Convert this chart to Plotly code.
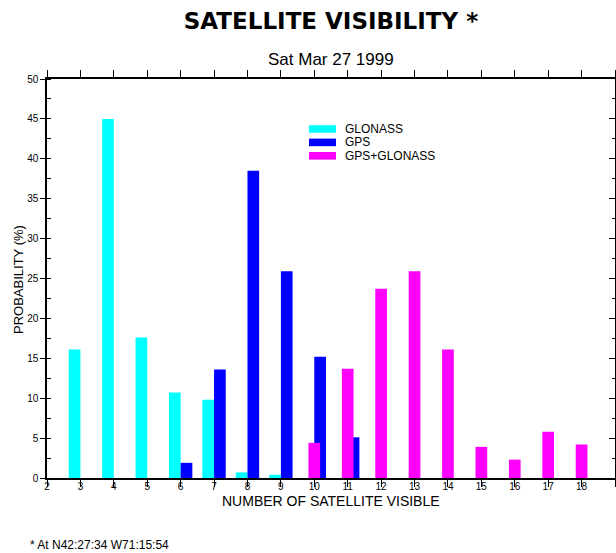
import plotly.graph_objects as go

counts = list(range(2, 20))
glonass_x = [3, 4, 5, 6, 7, 8, 9]
glonass_y = [16.1, 45.0, 17.6, 10.7, 9.8, 0.7, 0.4]
gps_x = [6, 7, 8, 9, 10, 11]
gps_y = [1.9, 13.6, 38.5, 25.9, 15.2, 5.1]
both_x = [10, 11, 12, 13, 14, 15, 16, 17, 18]
both_y = [4.4, 13.7, 23.7, 25.9, 16.1, 3.9, 2.3, 5.8, 4.2]
y_ticks = [0, 5, 10, 15, 20, 25, 30, 35, 40, 45, 50]
series_names = ["GLONASS", "GPS", "GPS+GLONASS"]

CYAN, BLUE, MAG = "#00FFFF", "#0000FF", "#FF00FF"
colors = [CYAN, BLUE, MAG]
FONT = "Liberation Sans, Arial, Helvetica, sans-serif"
W = 0.35

# plot area in pixels
L, R, T, B = 47, 615, 79, 478
PW, PH = R - L, B - T


def px(x):
    return (x - L) / PW


def py(y):
    return (B - y) / PH


fig = go.Figure()
fig.add_bar(x=glonass_x, y=glonass_y, width=W, offset=-W, marker=dict(color=CYAN, line=dict(width=0)),
            showlegend=False, name=series_names[0])
fig.add_bar(x=gps_x, y=gps_y, width=W, offset=0, marker=dict(color=BLUE, line=dict(width=0)),
            showlegend=False, name=series_names[1])
fig.add_bar(x=both_x, y=both_y, width=W, offset=-W / 2, marker=dict(color=MAG, line=dict(width=0)),
            showlegend=False, name=series_names[2])

# invisible trace on right axis
fig.add_scatter(x=[None], y=[None], yaxis="y2", showlegend=False, hoverinfo="skip")

shapes = []
annotations = [
    dict(text="Sat Mar 27 1999", x=0.5, y=py(60), xref="paper", yref="paper",
         xanchor="center", yanchor="middle", showarrow=False, font=dict(size=17)),
    dict(text="NUMBER OF SATELLITE VISIBLE", x=0.5, y=py(501), xref="paper", yref="paper",
         xanchor="center", yanchor="middle", showarrow=False, font=dict(size=14)),
    dict(text="PROBABILITY (%)", x=px(18), y=py(280), xref="paper", yref="paper",
         xanchor="center", yanchor="middle", textangle=-90, showarrow=False, font=dict(size=13)),
    dict(text="* At N42:27:34 W71:15:54", x=px(28), y=py(545), xref="paper", yref="paper",
         xanchor="left", yanchor="middle", showarrow=False, font=dict(size=12)),
]
# legend drawn manually
for i, (nm, c) in enumerate(zip(series_names, colors)):
    yc = 129 + i * 13.4
    shapes.append(dict(type="rect", xref="paper", yref="paper", x0=px(309), x1=px(336),
                       y0=py(yc + 3.8), y1=py(yc - 3.8), fillcolor=c, line=dict(width=0)))
    annotations.append(dict(text=nm, x=px(343), y=py(yc), xref="paper", yref="paper",
                            xanchor="left", yanchor="middle", showarrow=False, font=dict(size=12)))

fig.update_layout(
    width=616, height=553,
    margin=dict(l=L, r=616 - R, t=T, b=553 - B),
    paper_bgcolor="white", plot_bgcolor="white",
    barmode="overlay",
    showlegend=False,
    font=dict(family=FONT, color="black", size=11),
    title=dict(text="<b>SATELLITE VISIBILITY *</b>", x=331 / 616, xanchor="center",
               y=1 - 21 / 553, yanchor="middle", yref="container",
               font=dict(size=23, family="DejaVu Sans, Liberation Sans, sans-serif", color="black")),
    xaxis=dict(range=[2, 19], tickmode="array", tickvals=counts, ticktext=[str(c) for c in counts],
               showgrid=False, zeroline=False, showline=True, linecolor="black", linewidth=1.5,
               mirror="ticks", ticks="outside", ticklen=7, tickcolor="black", tickwidth=1,
               tickfont=dict(size=10), ticklabelstandoff=-9),
    yaxis=dict(range=[0, 50], tickmode="array", tickvals=y_ticks,
               showgrid=False, zeroline=False, showline=True, linecolor="black", linewidth=1.5,
               ticks="outside", ticklen=5, tickcolor="black", tickfont=dict(size=10),
               minor=dict(dtick=2.5, ticks="inside", ticklen=4, tickcolor="black", showgrid=False)),
    yaxis2=dict(range=[0, 50], overlaying="y", side="right", tickmode="array", tickvals=y_ticks,
                showgrid=False, zeroline=False, showline=True, linecolor="black", linewidth=1.5,
                ticks="inside", ticklen=6, tickcolor="black", showticklabels=False,
                minor=dict(dtick=2.5, ticks="inside", ticklen=3, tickcolor="black", showgrid=False)),
    shapes=shapes,
    annotations=annotations,
)

fig.write_html("out.html", post_script="document.body.style.margin='0';",
               config={"displayModeBar": False})
